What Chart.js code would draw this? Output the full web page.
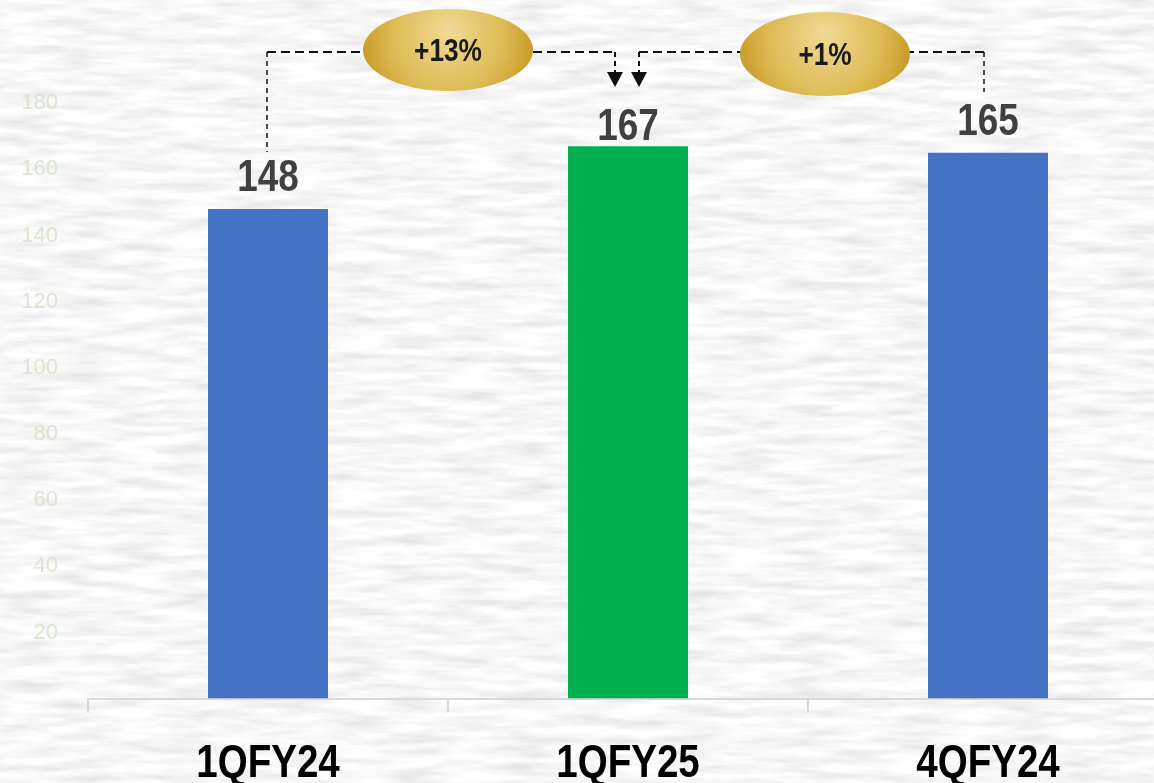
<!DOCTYPE html>
<html>
<head>
<meta charset="utf-8">
<script src="https://cdn.jsdelivr.net/npm/chart.js@4.4.1/dist/chart.umd.min.js"></script>
<style>
  html, body { margin: 0; padding: 0; overflow: hidden; width: 1154px; height: 783px; }
  body {
    background-color: #ebebeb;
    background-image: url("data:image/svg+xml;utf8,<svg xmlns='http://www.w3.org/2000/svg' width='1154' height='783'><filter id='n'><feTurbulence type='fractalNoise' baseFrequency='0.018 0.11' numOctaves='3' seed='7'/><feColorMatrix type='matrix' values='0.38 0 0 0 0.74 0.38 0 0 0 0.74 0.38 0 0 0 0.74 0 0 0 0 1'/></filter><rect width='100%' height='100%' filter='url(%23n)'/></svg>");
  }
  #wrap { position: absolute; left: 0; top: 0; width: 1168px; height: 783px; }
</style>
</head>
<body>
<div id="wrap"><canvas id="bar-chart" width="1168" height="783"></canvas></div>
<script>
const categories = ["1QFY24", "1QFY25", "4QFY24"];
const values = [148, 167, 165];
const barColors = ["#4472c4", "#00b050", "#4472c4"];
const yTickValues = [20, 40, 60, 80, 100, 120, 140, 160, 180];
const growthLabels = ["+13%", "+1%"];

const FONT = '"Liberation Sans", Arial, sans-serif';
const NARROW = 0.82; // squeeze Arial-like bold into an "Arial Narrow" look

function narrowText(ctx, text, x, y, font) {
    ctx.save();
    ctx.translate(x, y);
    ctx.scale(NARROW, 1);
    ctx.font = font;
    ctx.fillText(text, 0, 0);
    ctx.restore();
}

function oval(ctx, cx, cy, rx, ry, text) {
    let g = ctx.createRadialGradient(cx, cy - ry * 0.5, 4, cx, cy - ry * 0.2, rx * 1.05);
    g.addColorStop(0, "#efd891");
    g.addColorStop(0.6, "#dfbb55");
    g.addColorStop(1, "#c69824");
    ctx.fillStyle = g;
    ctx.beginPath();
    ctx.ellipse(cx, cy, rx, ry, 0, 0, Math.PI * 2);
    ctx.fill();
    ctx.fillStyle = "#1a1a1a";
    ctx.textAlign = "center";
    ctx.textBaseline = "middle";
    narrowText(ctx, text, cx, cy + 2, "bold 32px " + FONT);
}

function arrowDown(ctx, x, y1, y2) {
    ctx.setLineDash([5, 4]);
    ctx.lineWidth = 2;
    ctx.beginPath();
    ctx.moveTo(x, y1);
    ctx.lineTo(x, y2 - 14);
    ctx.stroke();
    ctx.setLineDash([]);
    ctx.beginPath();
    ctx.moveTo(x - 8, y2 - 15);
    ctx.lineTo(x + 8, y2 - 15);
    ctx.lineTo(x, y2);
    ctx.closePath();
    ctx.fill();
}

const annotate = {
    id: "annotate",
    afterDatasetsDraw(chart, args, opts) {
        const ctx = chart.ctx;
        const bars = chart.getDatasetMeta(0).data;
        const xs = chart.scales.x;
        ctx.save();

        // category labels
        ctx.fillStyle = "#000";
        ctx.textAlign = "center";
        ctx.textBaseline = "alphabetic";
        categories.forEach((c, i) => narrowText(ctx, c, xs.getPixelForTick(i), chart.chartArea.bottom + 78, "bold 47px " + FONT));

        // value labels
        ctx.fillStyle = "#404040";
        bars.forEach((b, i) => narrowText(ctx, String(values[i]), b.x, b.y - opts.lift[i], "bold 45px " + FONT));

        // dashed connectors
        const ly = opts.lineY;
        ctx.strokeStyle = "#111";
        ctx.fillStyle = "#111";
        ctx.lineWidth = 2;
        ctx.setLineDash([9, 5]);
        ctx.beginPath();
        ctx.moveTo(bars[0].x - 1, ly);
        ctx.lineTo(bars[1].x - 13, ly);
        ctx.moveTo(bars[1].x + 11, ly);
        ctx.lineTo(bars[2].x - 4, ly);
        ctx.stroke();
        ctx.setLineDash([5, 4]);
        ctx.lineWidth = 1.5;
        ctx.beginPath();
        ctx.moveTo(bars[0].x - 1, ly);
        ctx.lineTo(bars[0].x - 1, 152);
        ctx.moveTo(bars[2].x - 4, ly);
        ctx.lineTo(bars[2].x - 4, 92);
        ctx.stroke();
        arrowDown(ctx, bars[1].x - 13, ly, 87);
        arrowDown(ctx, bars[1].x + 11, ly, 87);

        // growth bubbles
        oval(ctx, (bars[0].x + bars[1].x) / 2, ly - 2, 85, 41, growthLabels[0]);
        oval(ctx, (bars[1].x + bars[2].x) / 2 + 17, ly + 2, 85, 42, growthLabels[1]);
        ctx.restore();
    }
};

const barChart = document.getElementById("bar-chart");
var CHART = new Chart(barChart, {
    type: "bar",
    data: {
        labels: categories,
        datasets: [{
            data: values,
            backgroundColor: barColors,
            barPercentage: 1 / 3,
            categoryPercentage: 1
        }]
    },
    options: {
        responsive: false,
        animation: false,
        devicePixelRatio: 1,
        layout: { padding: { top: 37, left: 0, right: 0, bottom: 14 } },
        plugins: {
            legend: { display: false },
            tooltip: { enabled: false },
            annotate: { lift: [18, 6, 18], lineY: 52 }
        },
        scales: {
            x: {
                grid: { drawOnChartArea: false, drawTicks: true, tickLength: 14, color: "#d9d9d9", lineWidth: 2, offset: true },
                border: { display: true, color: "#d9d9d9", width: 2 },
                // labels are painted by the annotate plugin (narrow bold), keep their room here
                ticks: { color: "rgba(0,0,0,0)", padding: 0, font: { size: 47, weight: "bold", family: FONT } }
            },
            y: {
                min: 0,
                max: 200,
                grid: { display: false },
                border: { display: false },
                afterFit: s => { s.width = 88; },
                afterBuildTicks: s => { s.ticks = yTickValues.map(v => ({ value: v })); },
                ticks: { color: "#dae6d0", padding: 22, font: { size: 22, family: FONT } }
            }
        }
    },
    plugins: [annotate]
});
</script>
</body>
</html>
